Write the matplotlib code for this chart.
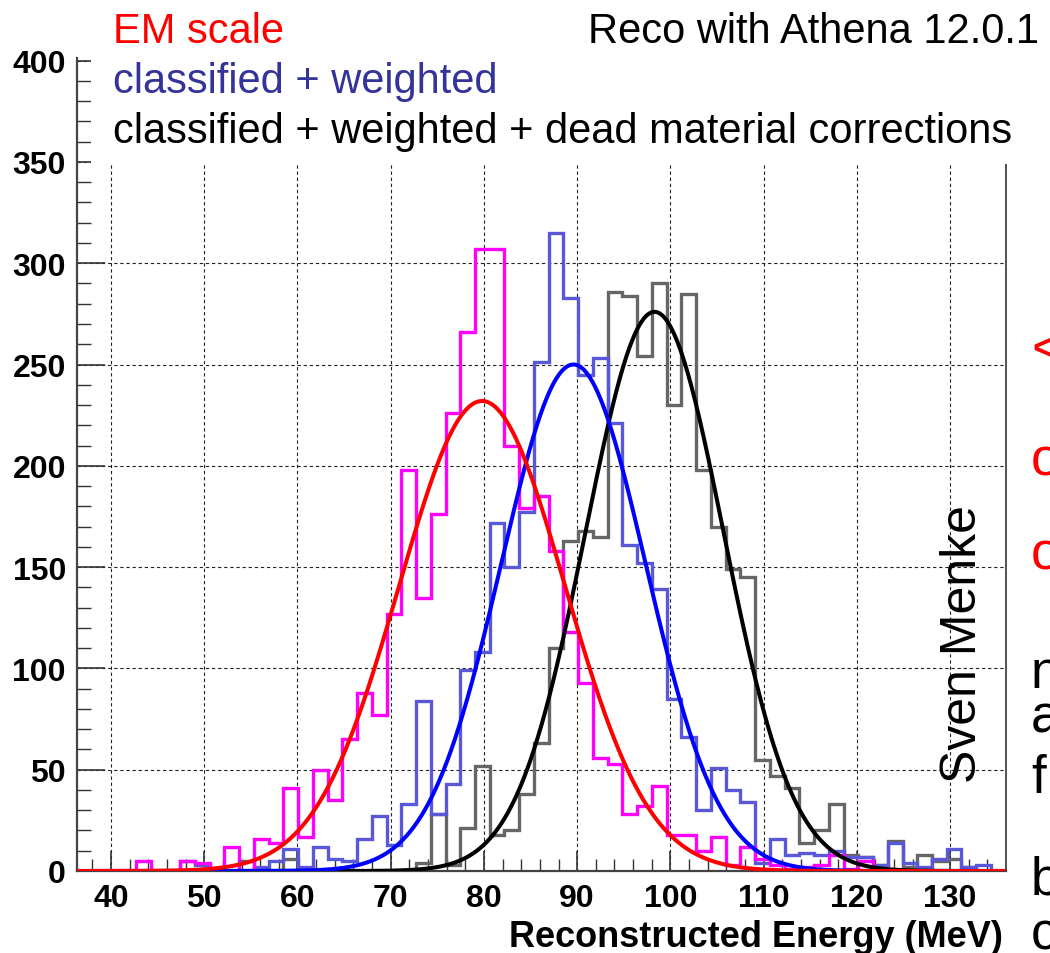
import numpy as np
import matplotlib
matplotlib.use("Agg")
import matplotlib.pyplot as plt
from matplotlib.patches import Rectangle
from matplotlib.ticker import MultipleLocator

plt.rcParams['font.family'] = ['Liberation Sans', 'DejaVu Sans']
plt.rcParams['font.weight'] = 'bold'

# ---------------- data ----------------
x_min, x_max = 36.35, 135.97
n_bins = 63

em_counts = [0, 0, 0, 0, 5, 0, 0, 5, 4, 0,
             12, 0, 16, 14, 41, 17, 50, 35, 65, 88,
             77, 127, 198, 135, 176, 226, 266, 307, 307, 210,
             179, 185, 158, 118, 93, 56, 53, 28, 32, 42,
             18, 18, 10, 17, 3, 12, 6, 3, 1, 2,
             3, 8, 1, 5, 0, 0, 0, 0, 0, 0,
             0, 0, 0]

cw_counts = [0, 0, 0, 0, 0, 0, 0, 5, 3, 0,
             0, 0, 2, 5, 11, 2, 12, 6, 5, 16,
             27, 13, 33, 84, 28, 43, 99, 108, 172, 150,
             177, 251, 315, 283, 245, 253, 221, 161, 152, 139,
             85, 66, 30, 51, 40, 34, 4, 16, 8, 9,
             8, 10, 7, 7, 3, 14, 4, 2, 6, 11,
             2, 3, 0]

dm_counts = [0, 0, 0, 0, 0, 0, 0, 0, 0, 0,
             0, 5, 0, 0, 6, 0, 0, 0, 0, 0,
             0, 0, 0, 4, 28, 3, 21, 52, 18, 20,
             38, 63, 110, 163, 168, 165, 286, 284, 254, 290,
             230, 285, 198, 170, 149, 145, 55, 47, 41, 14,
             20, 33, 8, 7, 3, 15, 2, 8, 5, 6,
             2, 0, 0]

# Gaussian fit parameters: (amplitude, mean, sigma)
em_fit = (232.0, 79.8, 8.9)
cw_fit = (250.0, 89.6, 7.75)
dm_fit = (276.0, 98.3, 7.4)

x_ticks = [40, 50, 60, 70, 80, 90, 100, 110, 120, 130]
y_ticks = [0, 50, 100, 150, 200, 250, 300, 350, 400]

title_em = "EM scale"
title_cw = "classified + weighted"
title_dm = "classified + weighted + dead material corrections"
title_reco = "Reco with Athena 12.0.1"
x_label = "Reconstructed Energy (MeV)"
author = "Sven Menke"

# ---------------- figure ----------------
W, H = 1050, 954
fig = plt.figure(figsize=(W / 100, H / 100), dpi=100)


def fx(px):
    return px / W


def fy(py):
    return 1 - py / H


ax = fig.add_axes([fx(77), fy(872), fx(1005.7) - fx(77), fy(58.6) - fy(872)])

edges = np.linspace(x_min, x_max, n_bins + 1)
ax.stairs(dm_counts, edges, color='#666666', lw=2.4, zorder=3)
ax.stairs(cw_counts, edges, color='#5858d8', lw=2.4, zorder=3)
ax.stairs(em_counts, edges, color='#ff00ff', lw=2.4, zorder=3)

xs = np.linspace(x_min, x_max, 1200)
for (A, mu, s), c in [(dm_fit, 'black'), (cw_fit, '#0000ff'), (em_fit, '#ff0000')]:
    ax.plot(xs, A * np.exp(-0.5 * ((xs - mu) / s) ** 2), color=c, lw=2.9,
            zorder=4, solid_capstyle='butt')

ax.set_xlim(x_min, x_max)
ax.set_ylim(0, 401.5)
ax.set_xticks(x_ticks)
ax.set_yticks(y_ticks)
ax.xaxis.set_minor_locator(MultipleLocator(2))
ax.yaxis.set_minor_locator(MultipleLocator(10))
ax.tick_params(which='both', direction='in', top=False, right=False,
               color='#333333', labelsize=23)
ax.tick_params(axis='x', which='major', length=14.5, width=1.2, pad=8.5)
ax.tick_params(axis='x', which='minor', length=8.6, width=1.0)
ax.tick_params(axis='y', which='major', length=20, width=1.2, pad=8)
ax.tick_params(axis='y', which='minor', length=10, width=1.0)
ax.grid(True, which='major', color='#222222', lw=0.8, linestyle=(0, (3, 2.5)))
ax.set_axisbelow(True)

for side in ['left', 'bottom']:
    ax.spines[side].set_color('#444444')
    ax.spines[side].set_linewidth(1.6)
ax.spines['right'].set_color('#333333')
ax.spines['right'].set_linewidth(1.2)
ax.spines['top'].set_visible(False)

ax.set_xlabel(x_label, fontsize=26, fontweight='bold')
ax.xaxis.label.set_horizontalalignment('right')
ax.xaxis.label.set_verticalalignment('baseline')
ax.xaxis.set_label_coords((1003 - 77) / (1005.7 - 77), -(947 - 872) / (872 - 58.6))

# white box covering the top of the plot (slide overlay)
fig.add_artist(Rectangle((fx(91), fy(165)), 1 - fx(91), fy(0) - fy(165),
                         transform=fig.transFigure, facecolor='white',
                         edgecolor='none', zorder=5))

fig.text(fx(113), fy(43), title_em, color='#ff0000', fontsize=30,
         fontweight='normal', va='baseline', zorder=6)
fig.text(fx(588), fy(43), title_reco, color='black', fontsize=30,
         fontweight='normal', va='baseline', zorder=6)
fig.text(fx(113), fy(93), title_cw, color='#333399', fontsize=30,
         fontweight='normal', va='baseline', zorder=6)
fig.text(fx(113), fy(143), title_dm, color='black', fontsize=30,
         fontweight='normal', va='baseline', zorder=6)

fig.text(fx(963), fy(644), author, rotation=90, ha='center', va='center',
         fontsize=36, fontweight='normal', color='black', zorder=6)

# fragments of slide text cut by the right edge
for ch, yy, col in [('<', 365, '#ff0000'), ('o', 475, '#ff0000'),
                    ('o', 570, '#ff0000'), ('n', 688, 'black'),
                    ('a', 733, 'black'), ('f', 793, 'black'),
                    ('b', 895, 'black'), ('c', 950, 'black')]:
    fig.text(fx(1031), fy(yy), ch, color=col, fontsize=38,
             fontweight='normal', va='baseline', zorder=6)

fig.savefig('out.png', dpi=100)
